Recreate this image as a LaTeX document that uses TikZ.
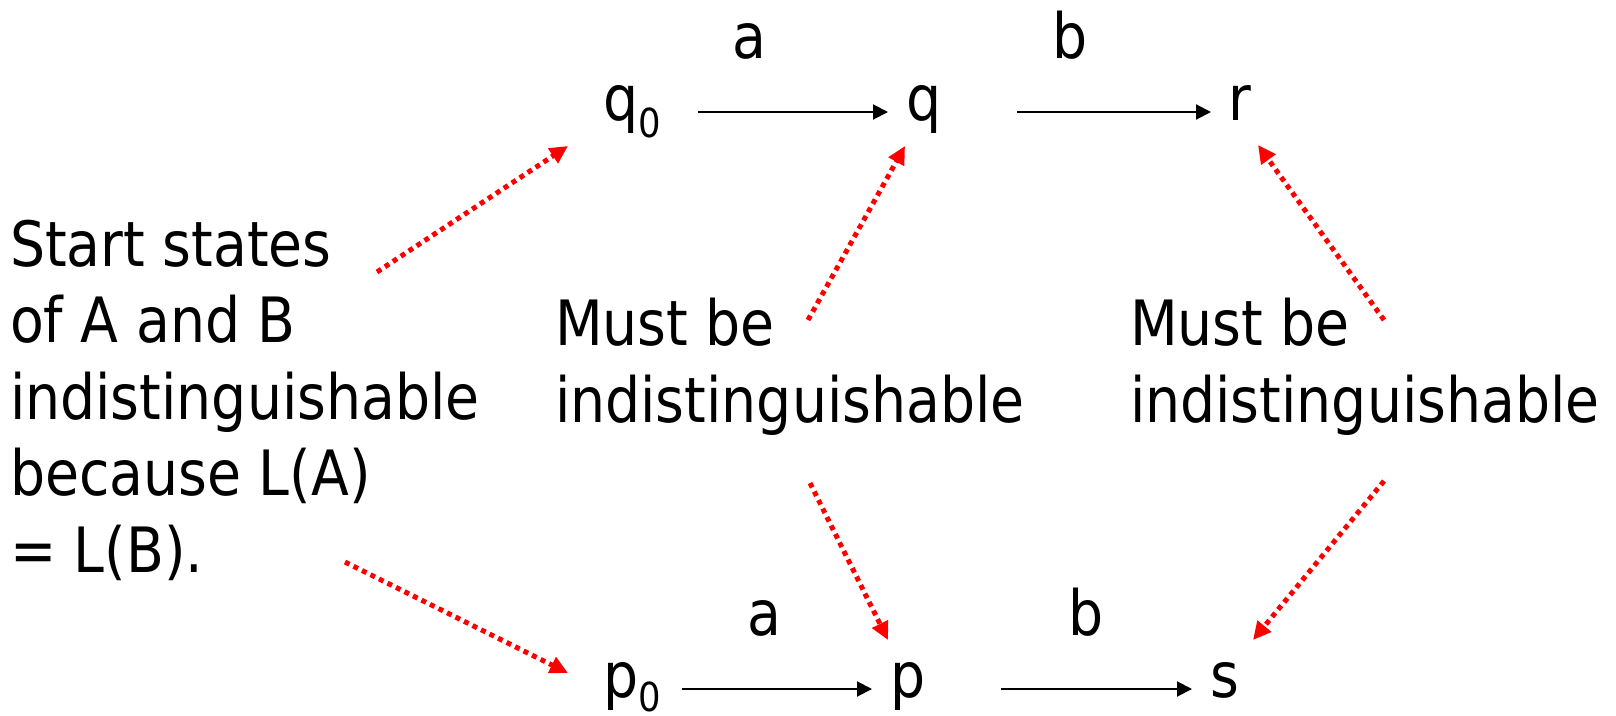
\documentclass[tikz,border=0pt]{standalone}
\usepackage{fontspec}
\setmainfont{DejaVu Sans}[FakeStretch=0.885]
\usetikzlibrary{arrows.meta}
\begin{document}
\begin{tikzpicture}[x=1pt,y=-1pt,
  every node/.style={inner sep=0pt, outer sep=0pt, font=\fontsize{62.5}{76.5}\selectfont},
  state/.style={anchor=base west, text height=32pt, text depth=16pt},
  lbl/.style={anchor=base west},
  txt/.style={anchor=base west, align=left},
  blk/.style={line width=2pt, -{Triangle[length=15pt,width=15pt]}},
  redarr/.style={red, line width=5pt, dash pattern=on 5pt off 4.5pt,
    -{Triangle[length=18pt,width=17pt]}}]
\useasboundingbox (0,0) rectangle (1616,715);
% states
\node[state] (q0) at (603,120) {q\raisebox{-17pt}{\fontsize{40}{40}\selectfont 0}};
\node[state] (q)  at (906,120) {q};
\node[state] (r)  at (1228,120) {r};
\node[state] (p0) at (603,697) {p\raisebox{-14pt}{\fontsize{40}{40}\selectfont 0}};
\node[state] (p)  at (890,697) {p};
\node[state] (s)  at (1210,697) {s};
% labels
\node[lbl] (la1) at (732,58) {a};
\node[lbl] (lb1) at (1052,58) {b};
\node[lbl] (la2) at (747,635) {a};
\node[lbl] (lb2) at (1068,635) {b};
% texts (base anchor = baseline of last line)
\node[txt] (start) at (10,572) {Start states\\of A and B\\indistinguishable\\because L(A)\\= L(B).};
\node[txt] (must1) at (555,422) {Must be\\indistinguishable};
\node[txt] (must2) at (1130,422) {Must be\\indistinguishable};
% transitions
\draw[blk, shorten <=37pt, shorten >=18pt] (q0) -- (q);
\draw[blk, shorten <=76pt, shorten >=17pt] (q) -- (r);
\draw[blk, shorten <=21pt, shorten >=18pt] (p0) -- (p);
\draw[blk, shorten <=76pt, shorten >=18pt] (p) -- (s);
% dotted pointers
\coordinate (st1) at (377,272);
\coordinate (st2) at (345,562);
\coordinate (m1a) at (808,320);
\coordinate (m1b) at (810,483);
\coordinate (m2a) at (1384,320);
\coordinate (m2b) at (1384,481);
\coordinate (q0in) at (568,146);
\coordinate (p0in) at (568,673);
\coordinate (qin) at (905,146);
\coordinate (pin) at (888,640);
\coordinate (rin) at (1258,145);
\coordinate (sin) at (1253,640);
\draw[redarr] (st1) -- (q0in);
\draw[redarr] (st2) -- (p0in);
\draw[redarr] (m1a) -- (qin);
\draw[redarr] (m1b) -- (pin);
\draw[redarr] (m2a) -- (rin);
\draw[redarr] (m2b) -- (sin);
\end{tikzpicture}
\end{document}
